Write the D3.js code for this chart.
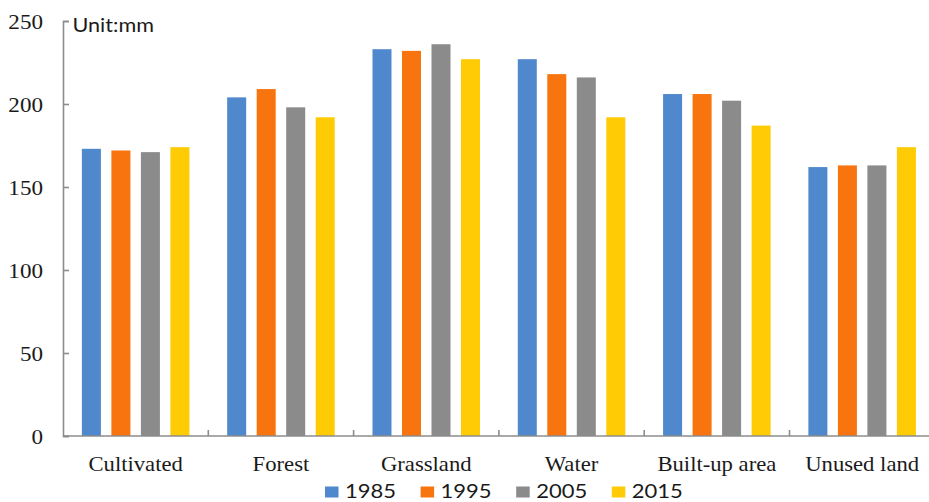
<!DOCTYPE html>
<html>
<head>
<meta charset="utf-8">
<script src="https://cdn.jsdelivr.net/npm/d3@7"></script>
<style>
  html, body { margin: 0; padding: 0; background: #ffffff; }
  svg { display: block; }
</style>
</head>
<body>
<svg id="chart" width="929" height="502"></svg>
<script>
// Land-use categories along the x axis
const categories = ["Cultivated", "Forest", "Grassland", "Water", "Built-up area", "Unused land"];
// Survey years (one bar per year in each category)
const years = ["1985", "1995", "2005", "2015"];
// Values in mm, one array per year, ordered as the categories
const values1985 = [173, 204, 233, 227, 206, 162];
const values1995 = [172, 209, 232, 218, 206, 163];
const values2005 = [171, 198, 236, 216, 202, 163];
const values2015 = [174, 192, 227, 192, 187, 174];
const yTicks = [0, 50, 100, 150, 200, 250];
const unitLabel = "Unit:mm";

const colors = ["#4f88cc", "#f8740f", "#8b8b8b", "#ffcb05"];
const seriesValues = [values1985, values1995, values2005, values2015];

const svg = d3.select("#chart");
const plotLeft = 63, bandW = 145.3, plotTop = 21, plotBottom = 436;
const axisColor = "#8c8c8c";
const stretch = 1.08;

const x0 = d3.scaleBand()
  .domain(categories)
  .range([plotLeft, plotLeft + bandW * categories.length])
  .paddingInner(0).paddingOuter(0);

const x1 = d3.scaleBand()
  .domain(years)
  .range([0, x0.bandwidth()])
  .paddingInner(0.356)
  .paddingOuter(0.64);

const y = d3.scaleLinear().domain([0, 250]).range([plotBottom, plotTop]);

const color = d3.scaleOrdinal().domain(years).range(colors);

// Bars
const groups = svg.append("g").selectAll("g")
  .data(categories)
  .join("g")
  .attr("transform", d => `translate(${x0(d)},0)`);

groups.selectAll("rect")
  .data((c, ci) => years.map((yr, si) => ({ yr, v: seriesValues[si][ci] })))
  .join("rect")
  .attr("x", d => x1(d.yr))
  .attr("width", x1.bandwidth())
  .attr("y", d => y(d.v))
  .attr("height", d => y(0) - y(d.v))
  .attr("fill", d => color(d.yr));

// Y axis (ticks point inward)
const yAxis = svg.append("g")
  .attr("transform", `translate(${plotLeft},0)`)
  .call(d3.axisLeft(y).tickValues(yTicks).tickSize(-6).tickPadding(20));
yAxis.select(".domain").attr("stroke", axisColor).attr("stroke-width", 1.6);
yAxis.selectAll(".tick line").attr("stroke", axisColor).attr("stroke-width", 1.6);
yAxis.selectAll(".tick text")
  .attr("font-family", "'Liberation Serif', 'Times New Roman', serif")
  .attr("font-size", 21)
  .attr("fill", "#1a1a1a")
  .attr("dy", "0.34em")
  .attr("transform", function () {
    const tx = +d3.select(this).attr("x");
    d3.select(this).attr("x", 0);
    return `translate(${tx},0) scale(1.1,1)`;
  });

// X axis baseline with inward ticks between categories
const xAxis = svg.append("g");
xAxis.append("line")
  .attr("x1", plotLeft).attr("x2", x0.range()[1])
  .attr("y1", plotBottom).attr("y2", plotBottom)
  .attr("stroke", axisColor).attr("stroke-width", 1.6);
xAxis.selectAll("line.sep")
  .data(categories.slice(1))
  .join("line")
  .attr("class", "sep")
  .attr("x1", d => x0(d)).attr("x2", d => x0(d))
  .attr("y1", plotBottom).attr("y2", plotBottom - 6)
  .attr("stroke", axisColor).attr("stroke-width", 1.6);

// Category labels
svg.append("g").selectAll("text")
  .data(categories)
  .join("text")
  .attr("transform", d => `translate(${x0(d) + x0.bandwidth() / 2},471) scale(${stretch},1)`)
  .attr("text-anchor", "middle")
  .attr("font-family", "'Liberation Serif', 'Times New Roman', serif")
  .attr("font-size", 21)
  .attr("fill", "#1a1a1a")
  .text(d => d);

// Unit label
svg.append("text")
  .attr("transform", `translate(72.5,32) scale(1.08,1)`)
  .attr("font-family", "Lato, 'Open Sans', sans-serif")
  .attr("font-size", 20)
  .attr("fill", "#1a1a1a")
  .text(unitLabel);

// Legend
const legend = svg.append("g").selectAll("g")
  .data(years)
  .join("g")
  .attr("transform", (d, i) => `translate(${325 + i * 95.6},0)`);
legend.append("rect")
  .attr("x", 0).attr("y", 486.5)
  .attr("width", 13.5).attr("height", 11)
  .attr("fill", d => color(d));
legend.append("text")
  .attr("transform", "translate(20,498) scale(1.1,1)")
  .attr("font-family", "Lato, 'Open Sans', sans-serif")
  .attr("font-size", 20)
  .attr("fill", "#1a1a1a")
  .text(d => d);
</script>
</body>
</html>
